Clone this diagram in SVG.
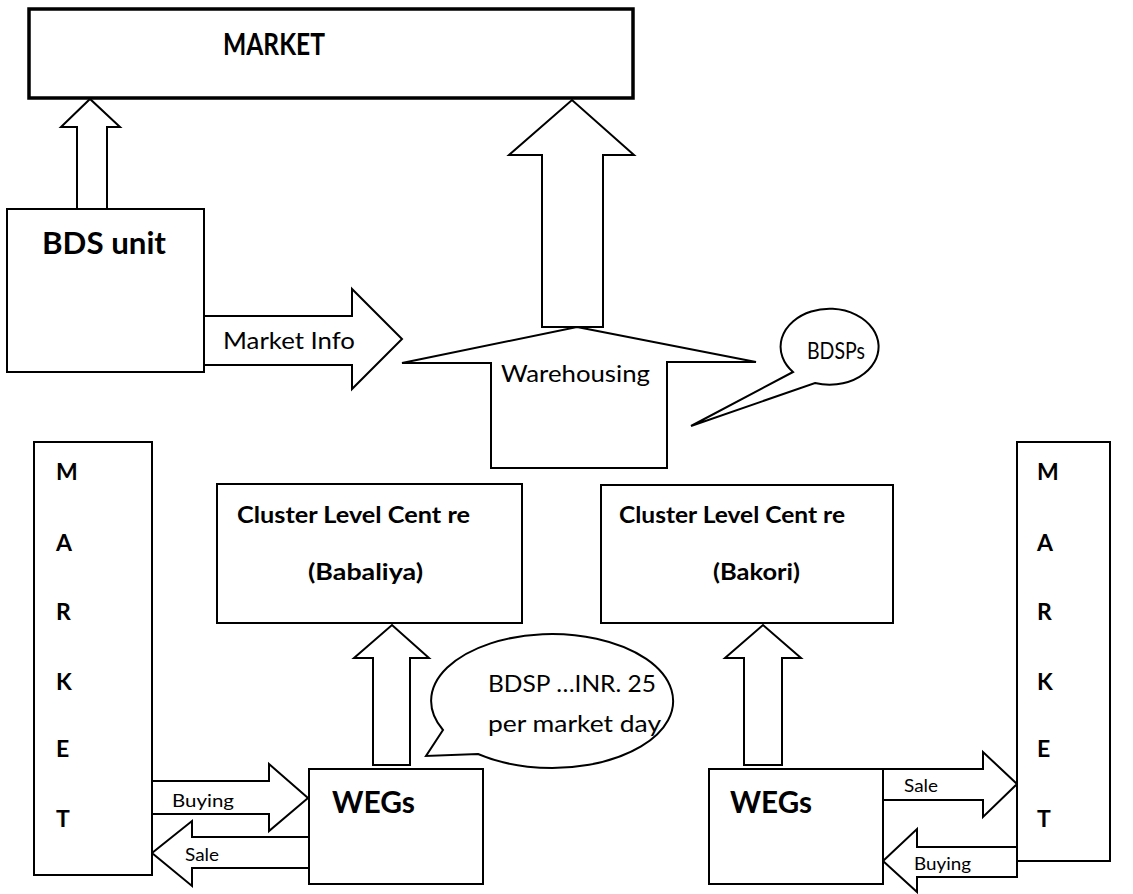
<svg xmlns="http://www.w3.org/2000/svg" width="1133" height="894" viewBox="0 0 1133 894">
<style>
.box{fill:#fff;stroke:#000;stroke-width:2}
.thick{fill:#fff;stroke:#000;stroke-width:3.5}
.arr{fill:#fff;stroke:#000;stroke-width:2;stroke-linejoin:miter}
.t{font-family:Lato,"Liberation Sans",sans-serif;fill:#000}
.b{font-weight:bold}
</style>
<rect width="1133" height="894" fill="#fff"/>
<g id="connectors">
<polygon class="arr" points="77,210 77,127 61,127 90,99 120,127 107,127 107,210"/>
<polygon class="arr" points="542,327 542,155 509,155 572,100 634,155 603,155 603,327"/>
<polygon class="arr" points="204,316 352,316 352,289 402,339 352,389 352,365 204,365"/>
<polygon class="arr" points="373,765 373,658 354,658 392,625 429,658 410,658 410,765"/>
<polygon class="arr" points="744,765 744,658 725,658 763,625 801,658 782,658 782,765"/>
<polygon class="arr" points="152,781 269,781 269,764 308,798 269,831 269,814 152,814"/>
<polygon class="arr" points="309,837 192,837 192,821 152,853 192,886 192,868 309,868"/>
<polygon class="arr" points="883,769 983,769 983,752 1017,784 983,817 983,800 883,800"/>
<polygon class="arr" points="1017,847 917,847 917,829 883,861 917,892 917,877 1017,877"/>
<text class="t" x="223" y="349" font-size="24" textLength="132" lengthAdjust="spacingAndGlyphs">Market Info</text>
<text class="t" x="172" y="807" font-size="18" textLength="62" lengthAdjust="spacingAndGlyphs">Buying</text>
<text class="t" x="185" y="861" font-size="18" textLength="34" lengthAdjust="spacingAndGlyphs">Sale</text>
<text class="t" x="904" y="792" font-size="18" textLength="34" lengthAdjust="spacingAndGlyphs">Sale</text>
<text class="t" x="914" y="870" font-size="18" textLength="57" lengthAdjust="spacingAndGlyphs">Buying</text>
</g>
<g id="market-top">
<rect class="thick" x="29" y="9" width="604" height="89"/>
<text class="t b" x="223" y="55" font-size="30" textLength="102" lengthAdjust="spacingAndGlyphs">MARKET</text>
</g>
<g id="bds-unit">
<rect class="box" x="7" y="209" width="197" height="163"/>
<text class="t b" x="42" y="254" font-size="30" textLength="124" lengthAdjust="spacingAndGlyphs">BDS unit</text>
</g>
<g id="warehousing">
<polygon class="arr" points="577,327 756,362 667,362 667,468 491,468 491,363 402,363"/>
<text class="t" x="501" y="382" font-size="24" textLength="149" lengthAdjust="spacingAndGlyphs">Warehousing</text>
</g>
<g id="bdsps-callout">
<path class="box" d="M793 372 L691 426 L815 383 A49 38 0 1 0 793 372 Z"/>
<text class="t" x="807" y="359" font-size="23" textLength="58" lengthAdjust="spacingAndGlyphs">BDSPs</text>
</g>
<g id="market-left">
<rect class="box" x="34" y="442" width="118" height="433"/>
<g class="t b" font-size="23">
<text x="56" y="480">M</text>
<text x="56" y="551">A</text>
<text x="56" y="620">R</text>
<text x="56" y="690">K</text>
<text x="56" y="757">E</text>
<text x="56" y="827">T</text>
</g>
</g>
<g id="market-right">
<rect class="box" x="1017" y="442" width="93" height="419"/>
<g class="t b" font-size="23">
<text x="1037" y="480">M</text>
<text x="1037" y="551">A</text>
<text x="1037" y="620">R</text>
<text x="1037" y="690">K</text>
<text x="1037" y="757">E</text>
<text x="1037" y="827">T</text>
</g>
</g>
<g id="cluster-babaliya">
<rect class="box" x="217" y="484" width="305" height="139"/>
<text class="t b" x="237" y="523" font-size="22" textLength="233" lengthAdjust="spacingAndGlyphs">Cluster Level Cent re</text>
<text class="t b" x="308" y="580" font-size="22" textLength="115" lengthAdjust="spacingAndGlyphs">(Babaliya)</text>
</g>
<g id="cluster-bakori">
<rect class="box" x="601" y="485" width="292" height="138"/>
<text class="t b" x="619" y="523" font-size="22" textLength="226" lengthAdjust="spacingAndGlyphs">Cluster Level Cent re</text>
<text class="t b" x="713" y="580" font-size="22" textLength="87" lengthAdjust="spacingAndGlyphs">(Bakori)</text>
</g>
<g id="bdsp-fee-callout">
<path class="box" d="M443 730 L426 756 L478 754 A121 67 0 1 0 443 730 Z"/>
<text class="t" x="488" y="692" font-size="23" textLength="168" lengthAdjust="spacingAndGlyphs">BDSP …INR. 25</text>
<text class="t" x="488" y="732" font-size="23" textLength="173" lengthAdjust="spacingAndGlyphs">per market day</text>
</g>
<g id="wegs-left">
<rect class="box" x="309" y="769" width="174" height="115"/>
<text class="t b" x="332" y="813" font-size="30" textLength="83" lengthAdjust="spacingAndGlyphs">WEGs</text>
</g>
<g id="wegs-right">
<rect class="box" x="709" y="769" width="174" height="115"/>
<text class="t b" x="730" y="813" font-size="30" textLength="82" lengthAdjust="spacingAndGlyphs">WEGs</text>
</g>
</svg>
